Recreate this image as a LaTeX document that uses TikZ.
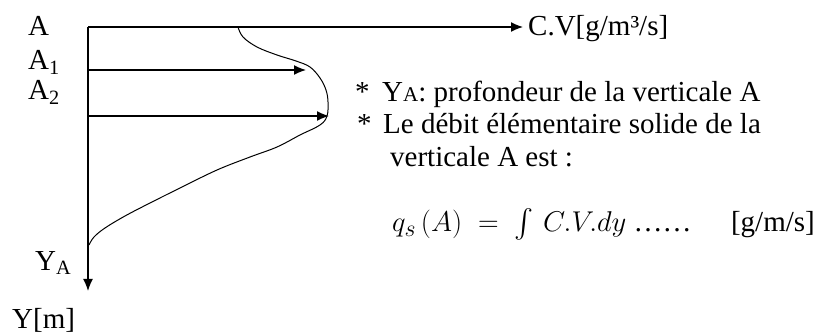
\documentclass[tikz,border=0pt]{standalone}
\usepackage{fontspec}
\setmainfont{Liberation Serif}
\usepackage{amsmath}
\usetikzlibrary{arrows.meta}

\tikzset{
  txt/.style={font=\fontsize{29}{33}\selectfont,inner sep=0pt,anchor=base west},
  axis/.style={line width=1.4pt,-{Latex[length=12pt,width=10pt]}},
  profile/.style={line width=1pt,smooth,tension=0.6}
}

\begin{document}
\begin{tikzpicture}[x=1pt,y=-1pt]
  \useasboundingbox (0,0) rectangle (823,334);

  % Axes
  \coordinate (O) at (88,27);
  \coordinate (cvend) at (523,27);
  \coordinate (yend) at (88,291);
  \draw[axis] (O) -- (cvend);
  \draw[axis] (O) -- (yend);

  % Arrows to the profile
  \coordinate (a1) at (88,70);
  \coordinate (a1tip) at (306,70);
  \coordinate (a2) at (88,116);
  \coordinate (a2tip) at (329,116);
  \draw[axis] (a1) -- (a1tip);
  \draw[axis] (a2) -- (a2tip);

  % Concentration profile
  \draw[profile] plot coordinates {(238,27) (243,37) (257,47) (277,55) (296,61) (310,67)
    (320,78) (326,90) (328,102) (327,116) (320,125) (300,135) (277,147) (250,157)
    (217,170) (180,188) (150,203) (125,216) (105,228) (94,237) (89,245)};

  % Labels of the axes
  \node[txt] (lA) at (28,36) {A};
  \node[txt] (lA1) at (28,70) {A\textsubscript{1}};
  \node[txt] (lA2) at (28,100) {A\textsubscript{2}};
  \node[txt] (lYA) at (35,270) {Y\textsubscript{A}};
  \node[txt] (lY) at (12,328) {Y[m]};
  \node[txt] (lCV) at (528,36) {C.V[g/m³/s]};

  % Notes
  \node[txt] (s1) at (355,102) {*};
  \node[txt] (n1) at (382,102) {Y{\fontsize{21}{21}\selectfont A}: profondeur de la verticale A};
  \node[txt] (s2) at (357,134) {*};
  \node[txt] (n2) at (383,134) {Le débit élémentaire solide de la};
  \node[txt] (n3) at (390,167) {verticale A est :};

  % Formula
  \node[txt] (qs) at (392,232) {\scalebox{1.15}{$q_s\,(A)\;=\;\int\,C.V.dy$}\ ……};
  \node[txt,anchor=base east] (unit) at (815,232) {[g/m/s]};
\end{tikzpicture}
\end{document}
